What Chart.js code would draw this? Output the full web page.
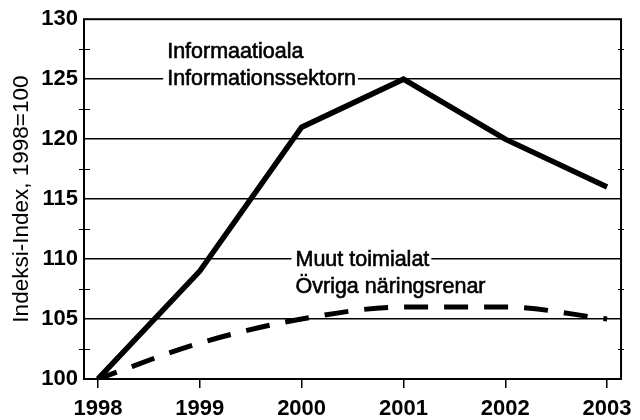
<!DOCTYPE html>
<html>
<head>
<meta charset="utf-8">
<script src="https://cdn.jsdelivr.net/npm/chart.js@4/dist/chart.umd.min.js"></script>
<style>
  html, body { margin: 0; padding: 0; background: #fff; }
  #wrap { width: 640px; height: 420px; }
</style>
</head>
<body>
<div id="wrap"><canvas id="chart" width="640" height="420"></canvas></div>
<script>
// data
const years = [1998, 1999, 2000, 2001, 2002, 2003];
const informaatioala = [100, 109, 121, 125, 120, 116];
const muutToimialat = [100, 103, 105, 106, 106, 105];
const yTicks = [100, 105, 110, 115, 120, 125, 130];

const labelInfo = ["Informaatioala", "Informationssektorn"];
const labelMuut = ["Muut toimialat", "Övriga näringsrenar"];
const labelInfoAt = { x: 1998.68, y: 127.3 };
const labelMuutAt = { x: 1999.94, y: 109.9 };

const FONT = "'Liberation Sans', Arial, sans-serif";

const pts = (vals) => years.map((y, i) => ({ x: y, y: vals[i] }));

// frame, minor ticks and the two text labels
const extras = {
  id: "extras",
  beforeDatasetsDraw(chart) {
    const ctx = chart.ctx;
    const xs = chart.scales.x, ys = chart.scales.y;
    const drawLabel = (lines, at) => {
      ctx.save();
      ctx.font = "21.5px " + FONT;
      ctx.textBaseline = "middle";
      ctx.lineWidth = 0.6;
      ctx.strokeStyle = "#000";
      const x = xs.getPixelForValue(at.x);
      const y0 = ys.getPixelForValue(at.y);
      lines.forEach((t, i) => {
        const y = y0 + i * 27;
        const w = ctx.measureText(t).width;
        ctx.fillStyle = "#fff";
        ctx.fillRect(x - 4, y - 12, w + 6, 24);
        ctx.fillStyle = "#000";
        ctx.fillText(t, x, y);
        ctx.strokeText(t, x, y);
      });
      ctx.restore();
    };
    drawLabel(labelInfo, labelInfoAt);
    drawLabel(labelMuut, labelMuutAt);
  },
  afterDraw(chart) {
    const ctx = chart.ctx;
    const a = chart.chartArea;
    const ys = chart.scales.y;
    ctx.save();
    ctx.strokeStyle = "#000";
    ctx.lineWidth = 2;
    ctx.strokeRect(a.left, a.top, a.right - a.left, a.bottom - a.top);
    ctx.lineWidth = 1.2;
    for (let v = ys.min + 2.5; v < ys.max; v += 5) {
      const y = Math.round(ys.getPixelForValue(v)) + 0.5;
      ctx.beginPath();
      ctx.moveTo(a.left - 5, y);
      ctx.lineTo(a.left + 6, y);
      ctx.moveTo(a.right - 3, y);
      ctx.lineTo(a.right + 3, y);
      ctx.stroke();
    }
    ctx.restore();
  }
};

const pxPerYear = 102.2;
const edge = 14 / pxPerYear;

new Chart(document.getElementById("chart"), {
  type: "line",
  data: {
    datasets: [
      {
        label: "Informaatioala",
        data: pts(informaatioala),
        borderColor: "#000",
        borderWidth: 5.5,
        tension: 0,
        pointRadius: 0,
        fill: false
      },
      {
        label: "Muut toimialat",
        data: pts(muutToimialat),
        borderColor: "#000",
        borderWidth: 5,
        borderDash: [24, 16],
        borderDashOffset: 4,
        cubicInterpolationMode: "monotone",
        pointRadius: 0,
        fill: false
      }
    ]
  },
  options: {
    responsive: false,
    animation: false,
    layout: { padding: { left: 0, right: 17, top: 17, bottom: 0 } },
    plugins: { legend: { display: false }, tooltip: { enabled: false } },
    scales: {
      x: {
        type: "linear",
        min: years[0] - edge,
        max: years[years.length - 1] + edge,
        afterBuildTicks: (s) => { s.ticks = years.map(v => ({ value: v })); },
        afterFit: (s) => { s.height = 41; },
        grid: { drawOnChartArea: false, drawTicks: true, tickLength: 9, color: "#000", lineWidth: 1.5 },
        border: { display: false },
        ticks: {
          color: "#000",
          font: { family: FONT, size: 22, weight: "bold" },
          padding: 8,
          maxRotation: 0,
          callback: (v) => String(v)
        }
      },
      y: {
        min: yTicks[0],
        max: yTicks[yTicks.length - 1],
        afterBuildTicks: (s) => { s.ticks = yTicks.map(v => ({ value: v })); },
        afterFit: (s) => { s.width = 84; },
        grid: {
          drawTicks: false,
          color: (c) => (c.tick && c.tick.value > 100 && c.tick.value < 130) ? "#000" : "rgba(0,0,0,0)",
          lineWidth: 1.5
        },
        border: { display: false },
        ticks: {
          color: "#000",
          font: { family: FONT, size: 22, weight: "bold" },
          padding: 6,
          callback: (v) => String(v)
        },
        title: {
          display: true,
          text: "Indeksi-Index, 1998=100",
          color: "#000",
          font: { family: FONT, size: 22.5 },
          padding: { top: 8, bottom: 0 }
        }
      }
    }
  },
  plugins: [extras]
});
</script>
</body>
</html>
